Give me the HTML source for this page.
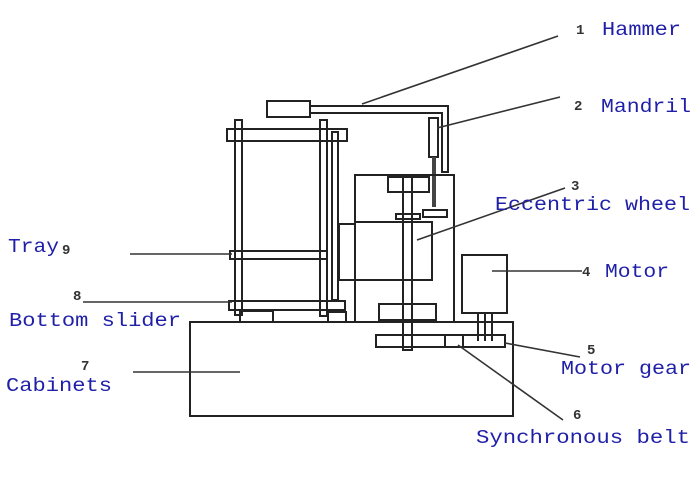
<!DOCTYPE html>
<html><head><style>
html,body{margin:0;padding:0;background:#fff;}
svg{display:block;}
.b{fill:none;stroke:#222;stroke-width:2;}
.l{stroke:#333;stroke-width:1.6;}
.t{font-family:"Liberation Mono",monospace;font-size:19px;fill:#1f1fa8;}
.n{font-family:"Liberation Mono",monospace;font-size:14px;fill:#333;font-weight:bold;}
</style></head><body>
<svg width="698" height="502" viewBox="0 0 698 502" xmlns="http://www.w3.org/2000/svg">
<!-- cabinet -->
<rect class="b" x="190" y="322" width="323" height="94"/>
<!-- hammer -->
<rect class="b" x="267" y="101" width="43" height="16"/>
<path class="b" d="M310 106 H448 V172 H442 V113 H310"/>
<!-- mandrel -->
<rect class="b" x="429" y="118" width="9" height="39"/>
<rect x="432" y="157" width="4" height="50" fill="#444"/>
<rect class="b" x="423" y="210" width="24" height="7"/>
<!-- frame -->
<rect class="b" x="227" y="129" width="120" height="12"/>
<rect class="b" x="235" y="120" width="7" height="195"/>
<rect class="b" x="320" y="120" width="7" height="196"/>
<rect class="b" x="332" y="132" width="6" height="168"/>
<rect class="b" x="230" y="251" width="97" height="8"/>
<rect class="b" x="229" y="301" width="116" height="9"/>
<rect class="b" x="240" y="311" width="33" height="11"/>
<rect class="b" x="328" y="312" width="18" height="10"/>
<!-- housing -->
<rect class="b" x="355" y="175" width="99" height="147"/>
<rect class="b" x="388" y="177" width="41" height="15"/>
<rect class="b" x="355" y="222" width="77" height="58"/>
<rect class="b" x="339" y="224" width="16" height="56"/>
<rect class="b" x="379" y="304" width="57" height="16"/>
<rect class="b" x="396" y="214" width="24" height="5"/>
<rect class="b" x="403" y="177" width="9" height="173"/>
<!-- motor -->
<rect class="b" x="462" y="255" width="45" height="58"/>
<path class="b" d="M478 313 V341 M485 313 V341 M492 313 V341"/>
<rect class="b" x="376" y="335" width="129" height="12"/>
<path class="b" d="M445 335 V347 M463 335 V347"/>
<!-- leader lines -->
<line class="l" x1="362" y1="104" x2="558" y2="36"/>
<line class="l" x1="437" y1="128" x2="560" y2="97"/>
<line class="l" x1="417" y1="240" x2="565" y2="188"/>
<line class="l" x1="492" y1="271" x2="582" y2="271"/>
<line class="l" x1="505" y1="343" x2="580" y2="357"/>
<line class="l" x1="458" y1="345" x2="563" y2="420"/>
<line class="l" x1="130" y1="254" x2="232" y2="254"/>
<line class="l" x1="83" y1="302" x2="232" y2="302"/>
<line class="l" x1="133" y1="372" x2="240" y2="372"/>
<!-- numbers -->
<text class="n" x="576" y="34">1</text>
<text class="n" x="574" y="110">2</text>
<text class="n" x="571" y="190">3</text>
<text class="n" x="582" y="276">4</text>
<text class="n" x="587" y="354">5</text>
<text class="n" x="573" y="419">6</text>
<text class="n" x="62" y="254">9</text>
<text class="n" x="73" y="300">8</text>
<text class="n" x="81" y="370">7</text>
<!-- labels -->
<text class="t" x="602" y="35" textLength="79" lengthAdjust="spacingAndGlyphs">Hammer</text>
<text class="t" x="601" y="112" textLength="90" lengthAdjust="spacingAndGlyphs">Mandril</text>
<text class="t" x="495" y="210" textLength="195" lengthAdjust="spacingAndGlyphs">Eccentric wheel</text>
<text class="t" x="605" y="277" textLength="64" lengthAdjust="spacingAndGlyphs">Motor</text>
<text class="t" x="561" y="374" textLength="130" lengthAdjust="spacingAndGlyphs">Motor gear</text>
<text class="t" x="476" y="443" textLength="214" lengthAdjust="spacingAndGlyphs">Synchronous belt</text>
<text class="t" x="8" y="252" textLength="51" lengthAdjust="spacingAndGlyphs">Tray</text>
<text class="t" x="9" y="326" textLength="172" lengthAdjust="spacingAndGlyphs">Bottom slider</text>
<text class="t" x="6" y="391" textLength="106" lengthAdjust="spacingAndGlyphs">Cabinets</text>
</svg>
</body></html>
